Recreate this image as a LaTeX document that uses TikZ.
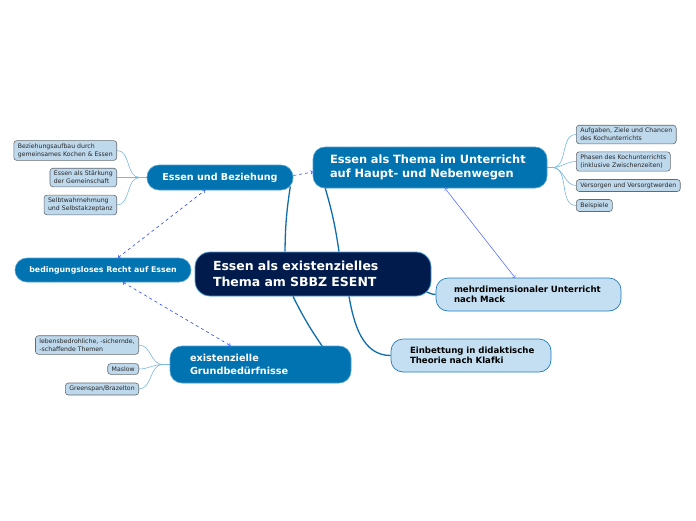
\documentclass[tikz,border=0pt]{standalone}
\usepackage{fontspec}
\setmainfont{DejaVu Sans}
\usetikzlibrary{backgrounds}
\definecolor{navy}{RGB}{0,27,76}
\definecolor{topicblue}{RGB}{0,115,176}
\definecolor{topicrim}{RGB}{80,160,210}
\definecolor{palefill}{RGB}{196,223,242}
\definecolor{palerim}{RGB}{30,125,190}
\definecolor{leaffill}{RGB}{190,216,236}
\definecolor{leafrim}{RGB}{100,106,112}
\definecolor{leafwire}{RGB}{120,184,222}
\definecolor{mainwire}{RGB}{15,110,170}
\definecolor{relblue}{RGB}{40,70,255}
\definecolor{relsoft}{RGB}{90,110,255}
\begin{document}
\begin{tikzpicture}
		[x=1pt,y=-1pt,
		central/.style={rectangle,rounded corners=15pt,draw=topicrim,fill=navy,text=white,font=\fontsize{12.5}{16}\selectfont\bfseries,align=left,inner ysep=0pt,line width=0.8pt},
		topic/.style={rectangle,rounded corners=12pt,draw=topicrim,fill=topicblue,text=white,font=\fontsize{11.4}{14.5}\selectfont\bfseries,inner ysep=0pt,line width=0.6pt},
		pale/.style={rectangle,rounded corners=12pt,draw=palerim,fill=palefill,text=black,font=\fontsize{8.6}{10.5}\selectfont\bfseries,align=left,inner ysep=0pt,inner xsep=8pt,line width=0.7pt},
		leaf/.style={rectangle,rounded corners=3pt,draw=leafrim,fill=leaffill,text=black!85,font=\fontsize{6.2}{7.8}\selectfont,align=left,inner xsep=4pt,inner ysep=3pt,line width=0.6pt},
		mainline/.style={draw=mainwire,line width=1.3pt},
		leafline/.style={draw=leafwire,line width=0.6pt},
		relation/.style={draw=relblue,dashed,line width=0.6pt}
		]
		\useasboundingbox (0,0) rectangle (696,520);
		% main nodes
		\node[central,minimum width=236pt,minimum height=44pt,text width=200pt,inner xsep=18pt] (esent) at (313,274) {Essen als existenzielles\\Thema am SBBZ ESENT};
		\node[topic,minimum width=234pt,minimum height=41pt,text width=200pt,inner xsep=17pt,align=left] (unterricht) at (430,167.5) {Essen als Thema im Unterricht\\auf Haupt- und Nebenwegen};
		\node[topic,minimum width=146pt,minimum height=25pt,font=\fontsize{9.6}{11}\selectfont\bfseries] (beziehung) at (220,177.5) {Essen und Beziehung};
		\node[topic,minimum width=176pt,minimum height=24pt,font=\fontsize{7.8}{9}\selectfont\bfseries] (recht) at (103,270) {bedingungsloses Recht auf Essen};
		\node[topic,minimum width=181pt,minimum height=37pt,text width=141pt,inner xsep=20pt,align=left,font=\fontsize{9.7}{13}\selectfont\bfseries] (grund) at (260.5,364.5) {existenzielle\\Grundbedürfnisse};
		\node[pale,minimum width=185pt,minimum height=33pt,text width=169pt] (mack) at (528.5,294.5) {\hspace*{10pt}mehrdimensionaler Unterricht\\\hspace*{10pt}nach Mack};
		\node[pale,minimum width=160pt,minimum height=33pt,text width=144pt] (klafki) at (471,355.5) {\hspace*{11pt}Einbettung in didaktische\\\hspace*{11pt}Theorie nach Klafki};

		% leaves
		\node[leaf,anchor=east] (aufbau) at (117,150.5) {Beziehungsaufbau durch\\gemeinsames Kochen \& Essen};
		\node[leaf,anchor=east] (staerkung) at (117,177.5) {Essen als Stärkung\\der Gemeinschaft};
		\node[leaf,anchor=east] (selbst) at (117,205) {Selbtwahrnehmung\\und Selbstakzeptanz};
		\node[leaf,anchor=west] (ziele) at (576,134.5) {Aufgaben, Ziele und Chancen\\des Kochunterrichts};
		\node[leaf,anchor=west] (phasen) at (576,161.5) {Phasen des Kochunterrichts\\(inklusive Zwischenzeiten)};
		\node[leaf,anchor=west] (versorgen) at (576,185.5) {Versorgen und Versorgtwerden};
		\node[leaf,anchor=west] (beispiele) at (576,205.5) {Beispiele};
		\node[leaf,anchor=east] (themen) at (139,345) {lebensbedrohliche, -sichernde,\\-schaffende Themen};
		\node[leaf,anchor=east] (maslow) at (139,369) {Maslow};
		\node[leaf,anchor=east] (greenspan) at (139,389) {Greenspan/Brazelton};

		\begin{pgfonlayer}{background}
		\draw[mainline] ([xshift=-28pt]esent.north) to[bend left=4] ([xshift=-3pt,yshift=-9pt]beziehung.east);
		\draw[mainline] ([xshift=26pt]esent.north) to[bend right=4] ([xshift=12pt,yshift=2pt]unterricht.south west);
		\draw[mainline] ([xshift=-20pt]esent.south) to[bend right=4] ([xshift=-28pt,yshift=-2pt]grund.north east);
		\draw[mainline] ([xshift=36pt]esent.south) to[out=-80,in=180] (klafki.west);
		\draw[mainline] ([xshift=-8pt,yshift=-17pt]esent.east) to[out=-10,in=180] (mack.west);
		\foreach \leafnode in {aufbau,staerkung,selbst}
			\draw[leafline] (beziehung.west) -- ++(-7,0) to[out=180,in=0] (\leafnode.east);
		\foreach \leafnode in {ziele,phasen,versorgen,beispiele}
			\draw[leafline] (unterricht.east) -- ++(5,0) to[out=0,in=180] (\leafnode.west);
		\foreach \leafnode in {themen,maslow,greenspan}
			\draw[leafline] (grund.west) -- ++(-7,0) to[out=180,in=0] (\leafnode.east);
		\end{pgfonlayer}

		% relations
		\draw[relation,->] ([yshift=2pt]beziehung.east) -- ([yshift=-4.5pt]unterricht.west);
		\draw[relation,<->] ([xshift=15pt]recht.north) -- ([xshift=-15pt]beziehung.south);
		\draw[relation,<->] ([xshift=20pt]recht.south) -- ([xshift=-30pt]grund.north);
		\draw[draw=relsoft,line width=0.6pt,<->] ([xshift=15pt]unterricht.south) -- ([xshift=-13.5pt]mack.north);
	\end{tikzpicture}
\end{document}
